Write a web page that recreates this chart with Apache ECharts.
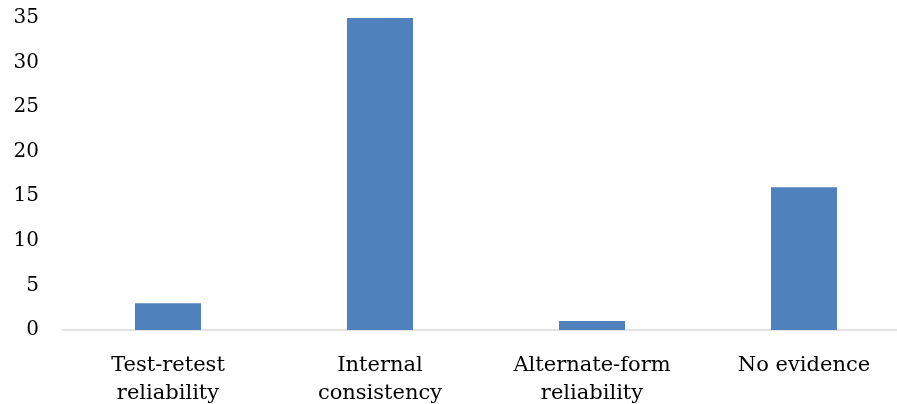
<!DOCTYPE html>
<html>
<head>
<meta charset="utf-8">
<script src="https://cdn.jsdelivr.net/npm/echarts@6/dist/echarts.min.js"></script>
<style>
html,body{margin:0;padding:0;background:#fff;overflow:hidden;width:897px;height:404px;}
#chart{width:910px;height:404px;}
</style>
</head>
<body>
<div id="chart"></div>
<script>
const categories = ['Test-retest\nreliability', 'Internal\nconsistency', 'Alternate-form\nreliability', 'No evidence'];
const values = [3, 35, 1, 16];
const yTicks = { min: 0, max: 35, interval: 5 };

const chart = echarts.init(document.getElementById('chart'), null, { renderer: 'canvas' });
const font = 'DejaVu Serif';
chart.setOption({
  animation: false,
  grid: { left: 62, top: 18, right: 0, height: 312, containLabel: false, outerBoundsMode: 'none' },
  xAxis: {
    type: 'category',
    data: categories,
    axisLine: { show: true, lineStyle: { color: '#d9d9d9', width: 1.5 } },
    axisTick: { show: false },
    axisLabel: { color: '#000', fontFamily: font, fontSize: 21, lineHeight: 28, margin: 22, interval: 0 }
  },
  yAxis: {
    type: 'value',
    min: yTicks.min, max: yTicks.max, interval: yTicks.interval,
    axisLine: { show: false },
    axisTick: { show: false },
    splitLine: { show: false },
    axisLabel: { color: '#000', fontFamily: font, fontSize: 20, margin: 23 }
  },
  series: [{
    type: 'bar',
    data: values,
    barWidth: 66,
    itemStyle: { color: '#4f81bd' }
  }]
});
</script>
</body>
</html>
